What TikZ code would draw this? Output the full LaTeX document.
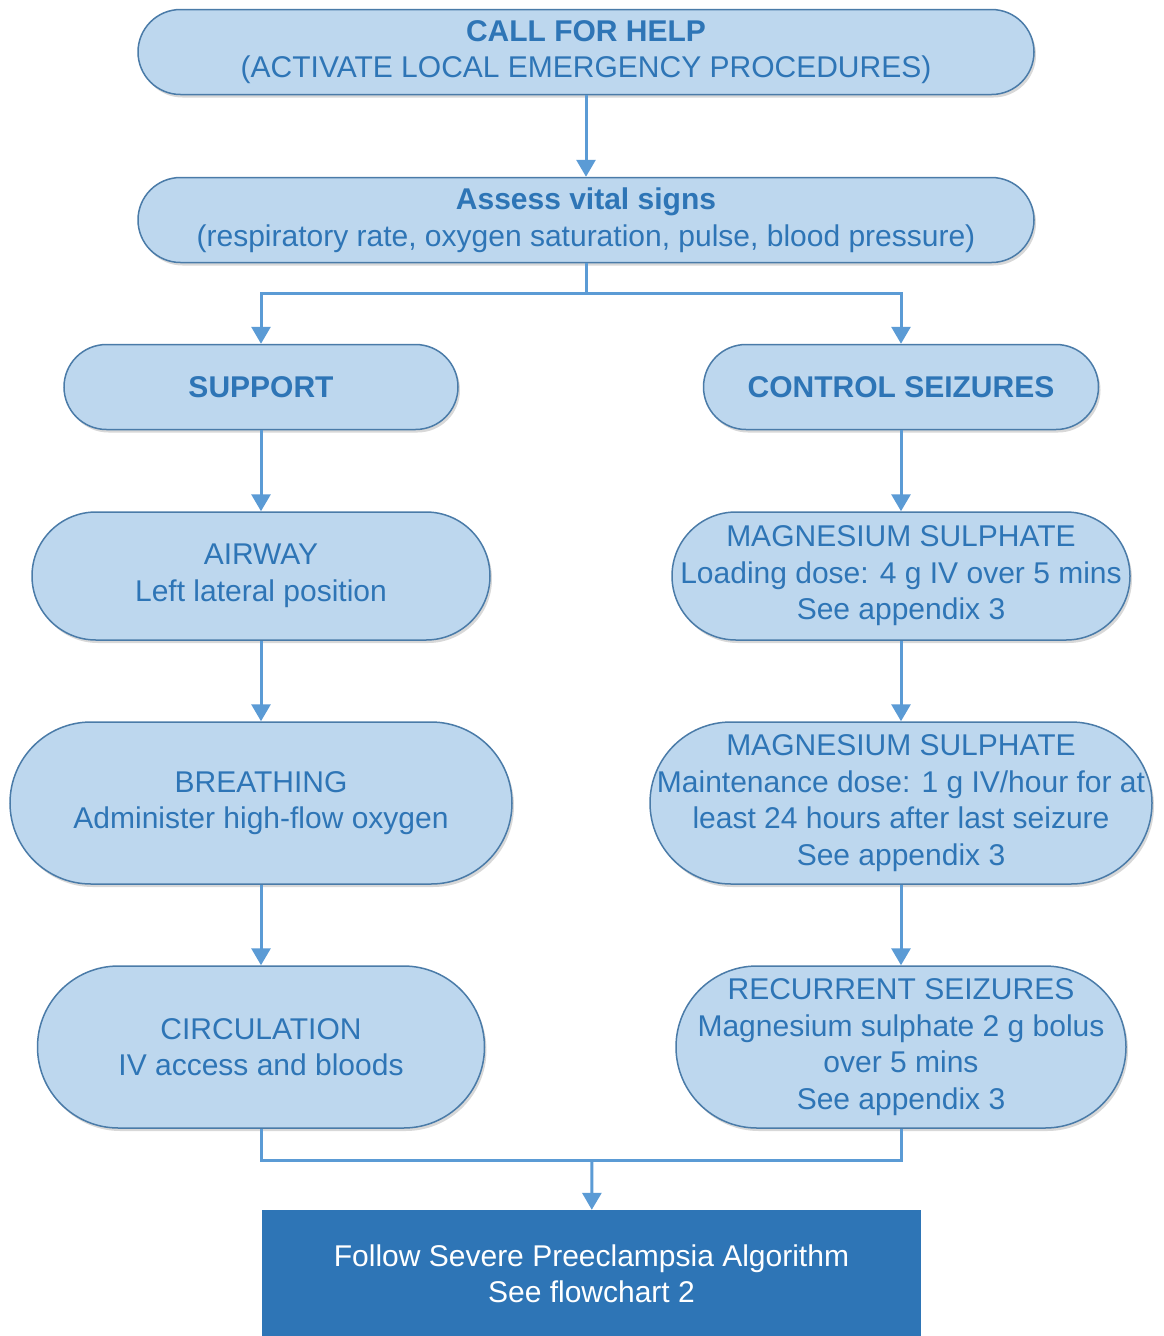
\documentclass[tikz,border=0pt]{standalone}
\usepackage{fontspec}
\setmainfont{Liberation Sans}
\usetikzlibrary{arrows.meta,shadows}
\definecolor{boxfill}{HTML}{BDD7EE}
\definecolor{boxline}{HTML}{4A7BA8}
\definecolor{boxtext}{HTML}{2E75B6}
\definecolor{arrowc}{HTML}{5B9BD5}
\definecolor{finalfill}{HTML}{2E75B6}
\begin{document}
\begin{tikzpicture}[x=1pt,y=-1pt,
  pill/.style={draw=boxline, fill=boxfill, line width=1.5pt, text=boxtext,
    align=center, font=\fontsize{30}{36.5}\selectfont, inner sep=0pt,
    drop shadow={shadow xshift=2pt, shadow yshift=-3pt, opacity=0.25, fill=black!60}},
  conn/.style={draw=arrowc, line width=3pt},
  arr/.style={conn, -{Triangle[width=19pt,length=17pt]}}]
\useasboundingbox (0,0) rectangle (1164,1336);
\fill[white] (0,0) rectangle (1164,1336);

\node[pill, minimum width=896pt, minimum height=85pt, rounded corners=42.5pt] (help) at (586,52)
  {\textbf{CALL FOR HELP}\\(ACTIVATE LOCAL EMERGENCY PROCEDURES)};
\node[pill, minimum width=896pt, minimum height=85pt, rounded corners=42.5pt] (assess) at (586,220)
  {\textbf{Assess vital signs}\\(respiratory rate, oxygen saturation, pulse, blood pressure)};

\node[pill, minimum width=394pt, minimum height=85pt, rounded corners=42.5pt] (support) at (261,387)
  {\textbf{SUPPORT}};
\node[pill, minimum width=395pt, minimum height=85pt, rounded corners=42.5pt] (control) at (901,387)
  {\textbf{CONTROL SEIZURES}};

\node[pill, minimum width=458pt, minimum height=128pt, rounded corners=64pt] (airway) at (261,576)
  {AIRWAY\\Left lateral position};
\node[pill, minimum width=458pt, minimum height=128pt, rounded corners=64pt] (mag1) at (901,576)
  {MAGNESIUM SULPHATE\\Loading dose: 4 g IV over 5 mins\\See appendix 3};

\node[pill, minimum width=502pt, minimum height=162pt, rounded corners=81pt] (breath) at (261,803)
  {BREATHING\\Administer high-flow oxygen};
\node[pill, minimum width=502pt, minimum height=162pt, rounded corners=81pt] (mag2) at (901,803)
  {MAGNESIUM SULPHATE\\Maintenance dose: 1 g IV/hour for at\\least 24 hours after last seizure\\See appendix 3};

\node[pill, minimum width=447pt, minimum height=162pt, rounded corners=81pt] (circ) at (261,1047)
  {CIRCULATION\\IV access and bloods};
\node[pill, minimum width=450pt, minimum height=162pt, rounded corners=81pt] (recur) at (901,1047)
  {RECURRENT SEIZURES\\Magnesium sulphate 2 g bolus\\over 5 mins\\See appendix 3};

\node[fill=finalfill, text=white, minimum width=659pt, minimum height=128pt, inner sep=0pt,
  align=center, font=\fontsize{30}{36.5}\selectfont] (final) at (591.5,1274)
  {Follow Severe Preeclampsia Algorithm\\See flowchart 2};

\coordinate (split) at (586,293);
\coordinate (join) at (592,1160);

\draw[arr] (help) -- (assess);
\draw[conn] (assess) -- (split);
\draw[arr] (split) -| (support);
\draw[arr] (split) -| (control);
\draw[arr] (support) -- (airway);
\draw[arr] (airway) -- (breath);
\draw[arr] (breath) -- (circ);
\draw[arr] (control) -- (mag1);
\draw[arr] (mag1) -- (mag2);
\draw[arr] (mag2) -- (recur);
\draw[conn] (circ) |- (join) -| (recur);
\draw[arr] (join) -- (final);
\end{tikzpicture}
\end{document}
